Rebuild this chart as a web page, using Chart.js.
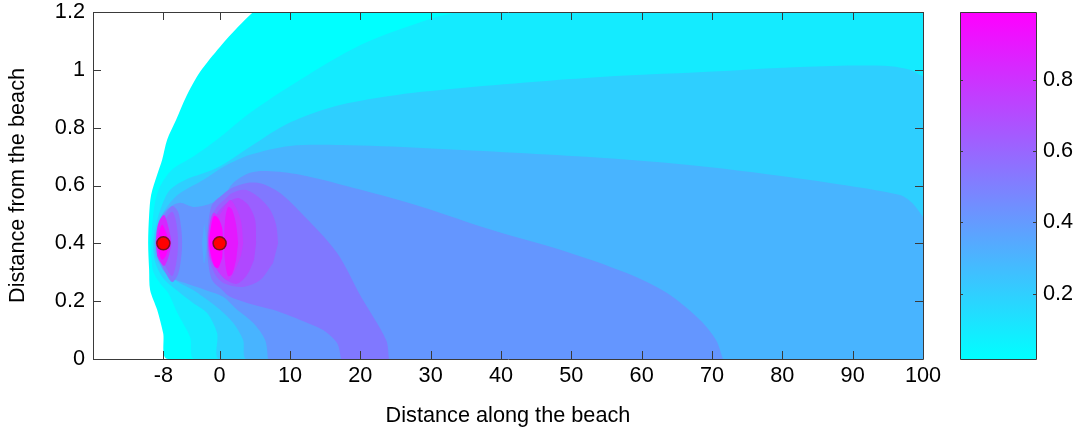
<!DOCTYPE html>
<html>
<head>
<meta charset="utf-8">
<title>Distance along the beach</title>
<script src="https://cdn.jsdelivr.net/npm/chart.js@4/dist/chart.umd.min.js"></script>
<style>
  html, body { margin: 0; padding: 0; background: #fff; }
  canvas { position: absolute; top: 0; }
  #field { left: 0; }
  #colorbar { left: 950px; }
</style>
</head>
<body>
<canvas id="field" width="1079" height="432"></canvas>
<canvas id="colorbar" width="129" height="432"></canvas>
<script>
const xTicks = [-8, 0, 10, 20, 30, 40, 50, 60, 70, 80, 90, 100];
const yTicks = [0, 0.2, 0.4, 0.6, 0.8, 1, 1.2];
const colorbarTicks = [0.2, 0.4, 0.6, 0.8];
const colorbarRange = [0.017, 0.99];
const colorbarColors = ["#00FFFF", "#FF00FF"];

const sourcesX = [-8, 0];
const sourcesY = [0.4, 0.4];

// contour outlines, outermost first
const band0X = [4.76, 2.63, 0.07, -2.77, -4.76, -6.18, -7.46, -8.17, -8.88, -9.74, -10.02, -10.16, -10.02, -9.88, -8.88, -8.03, -7.32, 100, 100, 100, 100];
const band0Y = [1.2, 1.149, 1.08, 0.993, 0.907, 0.827, 0.758, 0.689, 0.637, 0.567, 0.498, 0.401, 0.308, 0.239, 0.17, 0.09, 0, 0, 0, 1.2, 1.2];

const band1X = [33.9, 29.9, 20.1, 11.4, 4.3, -0.4, -3.8, -6.8, -8.5, -9.3, -9.7, -9.5, -8.5, -7.3, -6.0, -4.2, -3.5, 100, 100, 100, 100];
const band1Y = [1.2, 1.176, 1.087, 0.965, 0.851, 0.758, 0.699, 0.654, 0.595, 0.526, 0.401, 0.308, 0.263, 0.228, 0.159, 0.076, 0, 0, 0, 1.2, 1.2];

const band2X = [100, 98.15, 94.45, 82.5, 69.44, 52.1, 28.78, 18.55, 13.86, 9.03, 4.34, -0.36, -4.9, -7.04, -8.17, -9.03, -9.45, -9.17, -8.03, -5.61, -3.77, -1.78, -0.36, 0.07, 100, 100];
const band2Y = [0.976, 1.0, 1.014, 1.01, 0.993, 0.972, 0.924, 0.886, 0.855, 0.806, 0.734, 0.661, 0.619, 0.585, 0.533, 0.464, 0.401, 0.336, 0.28, 0.228, 0.194, 0.159, 0.09, 0, 0, 0];

const band3X = [100, 98.44, 96.73, 86.78, 69.44, 52.1, 28.78, 17.27, 10.02, 4.34, 0.5, -2.35, -5.61, -7.04, -8.17, -8.88, -9.24, -9.03, -7.6, -5.9, -3.77, -2.35, 0.07, 1.92, 3.34, 3.91, 100, 100];
const band3Y = [0.491, 0.54, 0.567, 0.609, 0.664, 0.699, 0.73, 0.74, 0.737, 0.706, 0.664, 0.619, 0.574, 0.54, 0.498, 0.453, 0.401, 0.349, 0.301, 0.266, 0.239, 0.215, 0.17, 0.125, 0.066, 0, 0, 0];

const band4X = [71.57, 70.57, 68.3, 63.61, 57.78, 48.54, 38.74, 28.78, 20.11, 11.44, 6.75, 4.34, 1.92, 0.5, -1.78, -3.77, -5.61, -7.04, -8.17, -8.74, -9.03, -8.74, -8.03, -6.75, -4.62, -2.06, 0.5, 2.49, 4.76, 6.47, 6.89];
const band4Y = [0, 0.066, 0.135, 0.228, 0.298, 0.377, 0.446, 0.526, 0.585, 0.637, 0.65, 0.644, 0.609, 0.561, 0.533, 0.526, 0.54, 0.526, 0.498, 0.453, 0.401, 0.349, 0.308, 0.28, 0.26, 0.239, 0.215, 0.17, 0.125, 0.066, 0];

// slit between the two lobes
const gapX = [-2.2, -1.85, -2.2, -2.5];
const gapY = [0.47, 0.401, 0.33, 0.401];

const band5X = [24.09, 23.67, 20.11, 16.7, 11.44, 8.6, 6.04, 3.91, 1.78, 0.36, -1.07, -1.63, -1.78, -1.63, -1.07, 0.36, 1.49, 3.91, 7.6, 11.44, 14.71, 16.7, 17.27];
const band5Y = [0, 0.066, 0.215, 0.367, 0.509, 0.574, 0.606, 0.609, 0.592, 0.567, 0.533, 0.464, 0.401, 0.336, 0.273, 0.239, 0.215, 0.194, 0.17, 0.135, 0.1, 0.055, 0];

const band6X = [8.32, 8.03, 7.18, 5.47, 3.62, 1.78, 0.64, -0.5, -1.35, -1.63, -1.35, -0.5, 0.78, 3.34, 5.76, 7.6];
const band6Y = [0.401, 0.464, 0.516, 0.561, 0.585, 0.574, 0.55, 0.522, 0.474, 0.401, 0.336, 0.287, 0.26, 0.249, 0.273, 0.332];

const band7X = [5.19, 5.05, 4.05, 2.63, 1.21, -0.21, -1.21, -1.49, -1.21, -0.36, 0.92, 2.49, 3.91, 4.9];
const band7Y = [0.401, 0.481, 0.533, 0.557, 0.543, 0.509, 0.453, 0.401, 0.349, 0.308, 0.273, 0.26, 0.291, 0.343];

const band8X = [3.34, 3.06, 2.35, 1.49, 0.64, -0.07, -0.92, -1.49, -1.63, -1.35, -0.5, 0.36, 1.21, 2.2, 3.06];
const band8Y = [0.401, 0.474, 0.522, 0.55, 0.522, 0.498, 0.505, 0.453, 0.401, 0.349, 0.315, 0.287, 0.273, 0.308, 0.36];

// two peaks beside the source at 0
const peakAX = [0.5, 0.36, -0.21, -0.78, -1.21, -1.49, -1.21, -0.78, -0.21, 0.36];
const peakAY = [0.401, 0.453, 0.488, 0.495, 0.46, 0.401, 0.356, 0.322, 0.315, 0.349];

const peakBX = [2.63, 2.35, 1.78, 1.21, 0.78, 0.64, 0.78, 1.21, 1.78, 2.35];
const peakBY = [0.401, 0.464, 0.516, 0.526, 0.481, 0.401, 0.336, 0.287, 0.294, 0.343];

// lobes around the source at -8
const lobe5X = [-8.88, -8.6, -7.89, -6.75, -5.9, -5.47, -5.33, -5.47, -5.9, -6.75, -7.89, -8.6];
const lobe5Y = [0.401, 0.453, 0.495, 0.529, 0.509, 0.453, 0.401, 0.349, 0.294, 0.266, 0.308, 0.349];

const lobe6X = [-8.74, -8.46, -7.75, -6.75, -6.18, -5.9, -6.18, -6.75, -7.75, -8.46];
const lobe6Y = [0.401, 0.446, 0.481, 0.509, 0.474, 0.401, 0.329, 0.287, 0.322, 0.356];

const lobe7X = [-9.1, -8.88, -8.46, -7.89, -7.32, -6.89, -7.32, -7.89, -8.46, -8.88];
const lobe7Y = [0.401, 0.453, 0.484, 0.498, 0.46, 0.401, 0.349, 0.322, 0.336, 0.356];

const lobe8X = [-8.88, -8.6, -8.17, -7.75, -7.18, -7.6, -8.17, -8.6];
const lobe8Y = [0.401, 0.439, 0.464, 0.446, 0.401, 0.36, 0.343, 0.363];

const toPoints = (xs, ys) => xs.map((x, i) => ({ x: x, y: ys[i] }));

const contours = [
  [band0X, band0Y, "#00FFFF"],
  [band1X, band1Y, "#14EBFF"],
  [band2X, band2Y, "#2ECFFF"],
  [band3X, band3Y, "#48B4FF"],
  [band4X, band4Y, "#6496FF"],
  [gapX, gapY, "#52A8FF"],
  [band5X, band5Y, "#8078FF"],
  [band6X, band6Y, "#9A60FF"],
  [band7X, band7Y, "#B048FF"],
  [band8X, band8Y, "#C838FF"],
  [peakBX, peakBY, "#E418FF"],
  [peakAX, peakAY, "#FF00FF"],
  [lobe5X, lobe5Y, "#8078FF"],
  [lobe6X, lobe6Y, "#9A60FF"],
  [lobe7X, lobe7Y, "#D428FF"],
  [lobe8X, lobe8Y, "#FF00FF"],
];

const FONT = { family: "'Liberation Sans', Arial, sans-serif", size: 21.7 };
const AXIS_COLOR = "#3a3a3a";

// keeps the plot box where the original has it, whatever the label sizes are
const pinBox = (scale, size) => {
  if (scale.isHorizontal()) scale.height = size;
  else scale.width = size;
  scale.paddingTop = 0;
  scale.paddingBottom = 0;
  scale.paddingLeft = 0;
  scale.paddingRight = 0;
};

// box round the plot with inward ticks on all four sides, like the original
const boxTicks = {
  id: "boxTicks",
  afterDatasetsDraw(chart, args, opts) {
    const { ctx, chartArea: a, scales } = chart;
    ctx.save();
    ctx.strokeStyle = AXIS_COLOR;
    ctx.lineWidth = 1;
    ctx.beginPath();
    if (scales.x.options.display) {
      scales.x.ticks.forEach((t) => {
        const px = Math.round(scales.x.getPixelForValue(t.value)) + 0.5;
        ctx.moveTo(px, a.bottom);
        ctx.lineTo(px, a.bottom - opts.length);
        ctx.moveTo(px, a.top);
        ctx.lineTo(px, a.top + opts.length);
      });
    }
    scales.y.ticks.forEach((t) => {
      const py = Math.round(scales.y.getPixelForValue(t.value)) + 0.5;
      ctx.moveTo(a.left, py);
      ctx.lineTo(a.left + opts.length, py);
      ctx.moveTo(a.right, py);
      ctx.lineTo(a.right - opts.length, py);
    });
    ctx.rect(a.left + 0.5, a.top + 0.5, a.right - a.left, a.bottom - a.top);
    ctx.stroke();
    ctx.restore();
  },
};

const fieldDatasets = contours
  .map(([xs, ys, color]) => ({
    type: "line",
    data: toPoints(xs, ys),
    fill: "shape",
    backgroundColor: color,
    borderWidth: 0,
    pointRadius: 0,
    tension: 0.3,
  }))
  .reverse();

new Chart(document.getElementById("field"), {
  type: "line",
  data: {
    datasets: [
      {
        type: "scatter",
        data: toPoints(sourcesX, sourcesY),
        backgroundColor: "#FF0000",
        borderColor: "#7A1020",
        borderWidth: 1.5,
        pointRadius: 6.5,
        pointHoverRadius: 6.5,
      },
      ...fieldDatasets,
    ],
  },
  options: {
    responsive: false,
    animation: false,
    events: [],
    layout: { padding: { top: 12, right: 156 } },
    plugins: { legend: { display: false }, tooltip: { enabled: false }, boxTicks: { length: 8 } },
    scales: {
      x: {
        type: "linear",
        min: -18,
        max: 100,
        afterBuildTicks: (scale) => { scale.ticks = xTicks.map((v) => ({ value: v })); },
        afterFit: (scale) => pinBox(scale, 73),
        grid: { display: false, drawTicks: false },
        border: { display: false },
        ticks: { font: FONT, color: "#000", padding: 4, maxRotation: 0, autoSkip: false, callback: (v) => String(v) },
        title: { display: true, text: "Distance along the beach", font: FONT, color: "#000", padding: { top: 0, bottom: 3 } },
      },
      y: {
        min: 0,
        max: 1.2,
        afterBuildTicks: (scale) => { scale.ticks = yTicks.map((v) => ({ value: v })); },
        afterFit: (scale) => pinBox(scale, 93),
        grid: { display: false, drawTicks: false },
        border: { display: false },
        ticks: { font: FONT, color: "#000", padding: 8, callback: (v) => String(v) },
        title: { display: true, text: "Distance from the beach", font: FONT, color: "#000", padding: { top: 5, bottom: 0 } },
      },
    },
  },
  plugins: [boxTicks],
});

new Chart(document.getElementById("colorbar"), {
  type: "bar",
  data: {
    labels: [""],
    datasets: [
      {
        data: [colorbarRange],
        barPercentage: 1,
        categoryPercentage: 1,
        backgroundColor: (ctx) => {
          const area = ctx.chart.chartArea;
          if (!area) return colorbarColors[0];
          const gradient = ctx.chart.ctx.createLinearGradient(0, area.bottom, 0, area.top);
          gradient.addColorStop(0, colorbarColors[0]);
          gradient.addColorStop(1, colorbarColors[1]);
          return gradient;
        },
      },
    ],
  },
  options: {
    responsive: false,
    animation: false,
    events: [],
    layout: { padding: { top: 12, bottom: 73, left: 10 } },
    plugins: { legend: { display: false }, tooltip: { enabled: false }, boxTicks: { length: 3 } },
    scales: {
      x: { display: false },
      y: {
        position: "right",
        min: colorbarRange[0],
        max: colorbarRange[1],
        afterBuildTicks: (scale) => { scale.ticks = colorbarTicks.map((v) => ({ value: v })); },
        afterFit: (scale) => pinBox(scale, 43),
        grid: { display: false, drawTicks: false },
        border: { display: false },
        ticks: { font: FONT, color: "#000", padding: 7, callback: (v) => String(v) },
      },
    },
  },
  plugins: [boxTicks],
});
</script>
</body>
</html>
